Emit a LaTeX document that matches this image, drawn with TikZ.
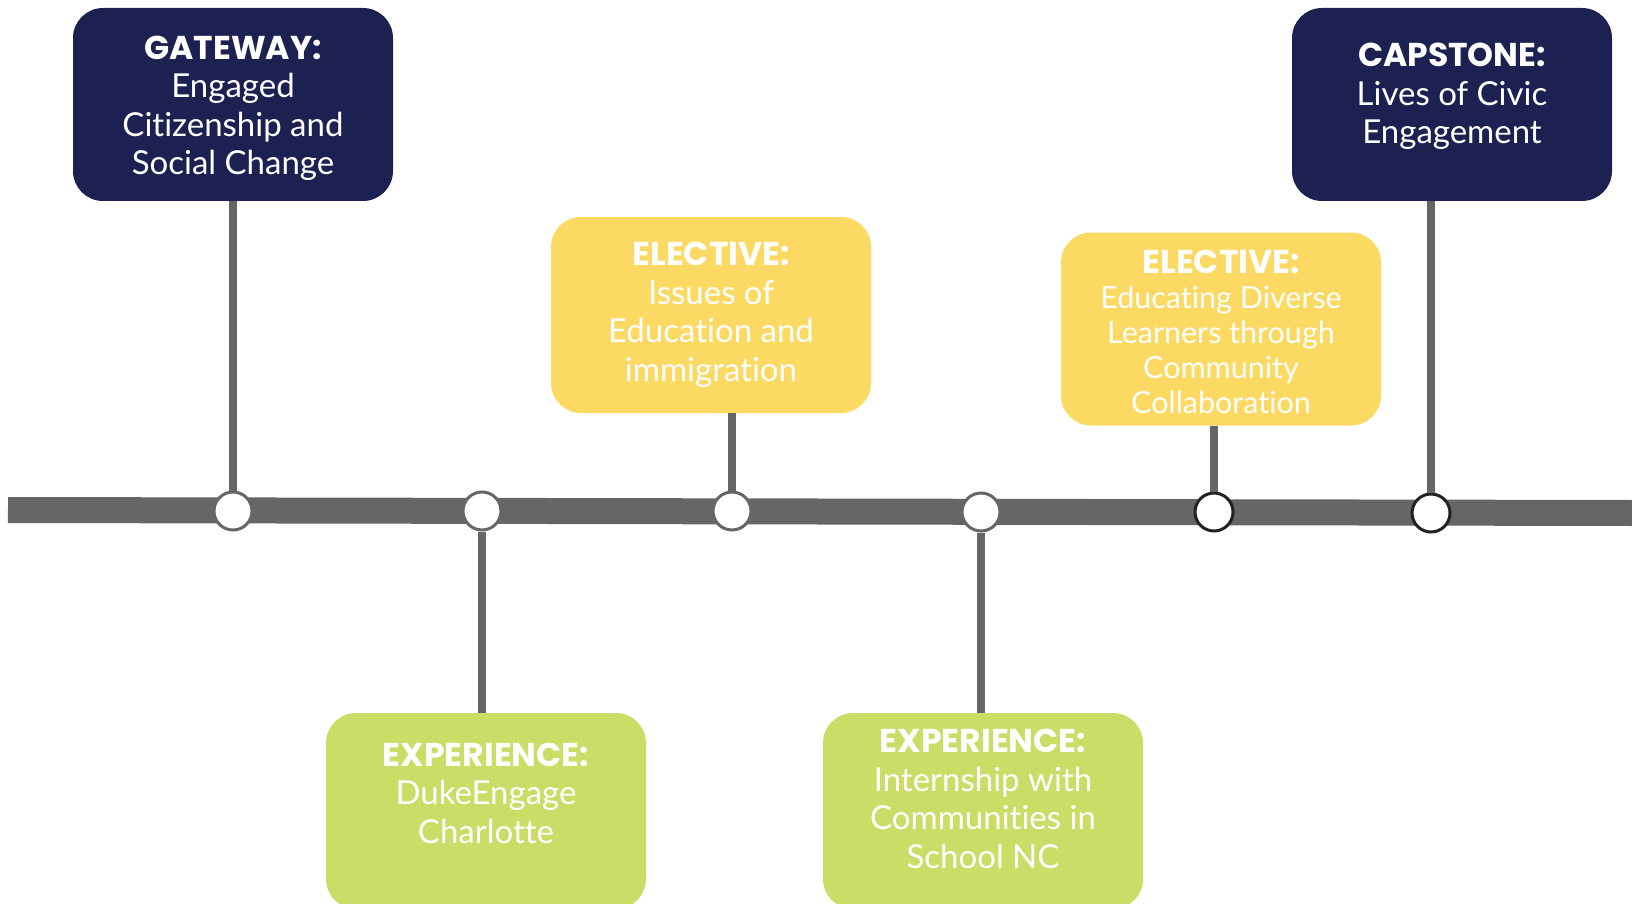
\documentclass[tikz,border=0pt]{standalone}
\usepackage{fontspec}
\setmainfont{Lato}[Ligatures={NoCommon,NoRequired,NoContextual}]
\newfontfamily\headfont{Poppins}[Ligatures={NoCommon,NoRequired,NoContextual}]
\newcommand{\hd}[1]{{\headfont\bfseries\fontsize{33}{38.5}\selectfont #1}}
\definecolor{navy}{HTML}{1D2152}
\definecolor{yel}{HTML}{FBD962}
\definecolor{grn}{HTML}{CBDD67}
\definecolor{bar}{HTML}{666666}
\definecolor{ring}{HTML}{222222}
\begin{document}
\begin{tikzpicture}[x=1pt,y=-1pt,
  box/.style={rounded corners=30pt, minimum width=320pt, inner sep=0pt},
  txt/.style={text=white, align=center, inner sep=0pt},
  big/.style={font=\fontsize{33}{38.5}\selectfont},
  small/.style={font=\fontsize{30.5}{34.8}\selectfont},
  stem/.style={draw=bar, line width=8pt},
  dot/.style={circle, fill=white, draw=bar, line width=3pt, minimum size=38pt, inner sep=0pt},
  dotdark/.style={dot, draw=ring}]
\useasboundingbox (0,0) rectangle (1632,904);
% timeline bar
\coordinate (bl) at (8,510);
\coordinate (br) at (1632,513);
\draw[bar, line width=26pt] (bl) -- (br);
% circles
\node[dot] (c1) at (233,511) {};
\node[dot] (c2) at (482,511) {};
\node[dot] (c3) at (732,511) {};
\node[dot] (c4) at (981,512) {};
\node[dotdark] (c5) at (1214,512) {};
\node[dotdark] (c6) at (1431,513) {};
% boxes
\node[box, fill=navy, minimum height=193pt] (gw) at (233,104.5) {};
\node[box, fill=navy, minimum height=193pt] (cap) at (1452,104.5) {};
\node[box, fill=yel, minimum height=196pt] (el1) at (711,315) {};
\node[box, fill=yel, minimum height=193pt] (el2) at (1221,329) {};
\node[box, fill=grn, minimum height=196pt] (ex1) at (486,811) {};
\node[box, fill=grn, minimum height=196pt] (ex2) at (983,811) {};
% stems
\draw[stem] (gw.south) -- (c1.north);
\draw[stem] (c6 |- cap.south) -- (c6.north);
\draw[stem] (c3 |- el1.south) -- (c3.north);
\draw[stem] (c5 |- el2.south) -- (c5.north);
\draw[stem] (c2.south) -- (c2 |- ex1.north);
\draw[stem] (c4.south) -- (c4 |- ex2.north);
% texts
\node[txt, big] (tgw) at ([yshift=-4pt]gw.center) {\hd{GATEWAY:}\\Engaged\\Citizenship and\\Social Change};
\node[txt, big] (tcap) at ([yshift=8pt]cap.center) {\hd{CAPSTONE:}\\Lives of Civic\\Engagement};
\node[txt, big] (tel1) at (el1.center) {\hd{ELECTIVE:}\\Issues of\\Education and\\immigration};
\node[txt, small] (tel2) at ([yshift=-3pt]el2.center) {\hd{ELECTIVE:}\\Educating Diverse\\Learners through\\Community\\Collaboration};
\node[txt, big] (tex1) at ([yshift=18pt]ex1.center) {\hd{EXPERIENCE:}\\DukeEngage\\Charlotte};
\node[txt, big] (tex2) at ([yshift=12pt]ex2.center) {\hd{EXPERIENCE:}\\Internship with\\Communities in\\School NC};
\end{tikzpicture}
\end{document}
